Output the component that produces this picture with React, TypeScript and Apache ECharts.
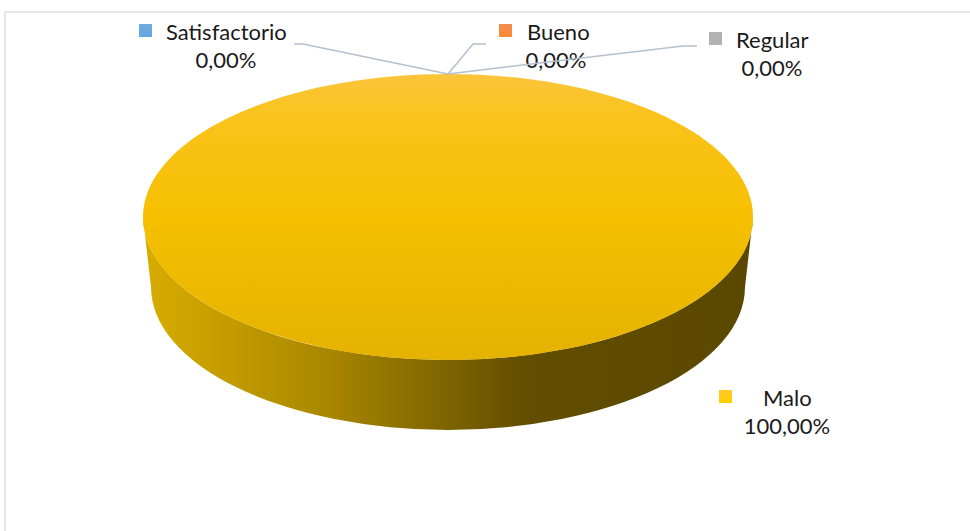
import React, { useEffect, useRef } from "react";
import * as echarts from "echarts";

// ---- data ----
const categories = ["Satisfactorio", "Bueno", "Regular", "Malo"];
const percentages = [0, 0, 0, 100];
const sliceColors = ["#5b9bd5", "#ed7d31", "#a5a5a5", "#ffc000"];

// ---- layout (positions, not data) ----
const pie = { cx: 448, cy: 217, rx: 305, ry: 143, depth: 70, rxBottom: 297 };
const labelLayout = [
  { mx: 139, my: 24, nx: 166, ny: 31.5, px: 226, py: 59, leader: [[294, 44], [303, 44]] },
  { mx: 499, my: 24, nx: 527, ny: 31.5, px: 556, py: 59, leader: [[486, 44], [473, 44]] },
  { mx: 709, my: 32, nx: 736, ny: 39, px: 772, py: 67, leader: [[697, 46], [683, 46]] },
  { mx: 719, my: 390, nx: 763, ny: 397, px: 787, py: 425, leader: null },
];
const FONT = "22px Lato";
const LEADER_COLOR = "#b4c0cf";

function fmtPct(v: number) {
  return v.toFixed(2).replace(".", ",") + "%";
}

function pt(theta: number, rx: number, ry: number, cx: number, cy: number) {
  return [cx + rx * Math.cos(theta), cy + ry * Math.sin(theta)];
}

export default function App() {
  const ref = useRef<HTMLDivElement>(null);
  useEffect(() => {
    if (!ref.current) return;
    const chart = echarts.init(ref.current, undefined, { renderer: "svg" });
    const total = percentages.reduce((a, b) => a + b, 0);

    const renderItem = (params: any, api: any) => {
      const i = params.dataIndex;
      const value = api.value(1);
      let before = 0;
      for (let k = 0; k < i; k++) before += percentages[k];
      const start = -Math.PI / 2 + (before / total) * Math.PI * 2;
      const end = start + (value / total) * Math.PI * 2;
      const mid = (start + end) / 2;
      const { cx, cy, rx, ry, depth, rxBottom } = pie;
      const children: any[] = [];

      if (value > 0) {
        // side (front, visible part)
        const full = value >= total;
        let s0 = full ? 0 : Math.max(start, 0);
        let s1 = full ? Math.PI : Math.min(end, Math.PI);
        if (s1 > s0) {
          const a = pt(s0, rx, ry, cx, cy);
          const b = pt(s1, rx, ry, cx, cy);
          const c = pt(s1, rxBottom, ry, cx, cy + depth);
          const d = pt(s0, rxBottom, ry, cx, cy + depth);
          const large = s1 - s0 > Math.PI ? 1 : 0;
          const pathData =
            `M${a[0]},${a[1]} A${rx},${ry} 0 ${large} 1 ${b[0]},${b[1]} ` +
            `L${c[0]},${c[1]} A${rxBottom},${ry} 0 ${large} 0 ${d[0]},${d[1]} Z`;
          children.push({
            type: "path",
            shape: { pathData },
            style: {
              fill: {
                type: "linear", x: 0, y: 0, x2: 1, y2: 0,
                colorStops: [
                  { offset: 0, color: "#d8ad00" },
                  { offset: 0.3, color: "#aa8700" },
                  { offset: 0.42, color: "#8e7200" },
                  { offset: 0.62, color: "#624e00" },
                  { offset: 1, color: "#5b4800" },
                ],
              },
            },
          });
        }
        // top
        const topFill = {
          type: "linear", x: 0, y: 0, x2: 0, y2: 1,
          colorStops: [
            { offset: 0, color: "#fbc53c" },
            { offset: 0.15, color: "#f9c31c" },
            { offset: 0.5, color: "#f6c000" },
            { offset: 1, color: "#e4b200" },
          ],
        };
        if (full) {
          children.push({ type: "ellipse", shape: { cx, cy, rx, ry }, style: { fill: topFill } });
        } else {
          const a = pt(start, rx, ry, cx, cy);
          const b = pt(end, rx, ry, cx, cy);
          const large = end - start > Math.PI ? 1 : 0;
          children.push({
            type: "path",
            shape: { pathData: `M${cx},${cy} L${a[0]},${a[1]} A${rx},${ry} 0 ${large} 1 ${b[0]},${b[1]} Z` },
            style: { fill: topFill },
          });
        }
      }

      // label
      const L = labelLayout[i];
      const anchor = pt(mid, rx, ry, cx, cy);
      if (L.leader) {
        children.push({
          type: "polyline",
          z2: 20,
          shape: { points: [L.leader[0], L.leader[1], anchor] },
          style: { stroke: LEADER_COLOR, lineWidth: 1.5, fill: "none" },
        });
      }
      const col = sliceColors[i];
      children.push({
        type: "rect",
        z2: 20,
        shape: { x: L.mx, y: L.my, width: 13, height: 13 },
        style: {
          fill: {
            type: "linear", x: 0, y: 0, x2: 0, y2: 1,
            colorStops: [
              { offset: 0, color: echarts.color.lift(col, 0.15) },
              { offset: 1, color: echarts.color.lift(col, -0.08) },
            ],
          },
        },
      });
      children.push({
        type: "text",
        z2: 20,
        style: {
          text: categories[i], x: L.nx, y: L.ny, font: FONT, fill: "#1a1a1a",
          align: "left", verticalAlign: "middle",
        },
      });
      children.push({
        type: "text",
        z2: 20,
        style: {
          text: fmtPct(value), x: L.px, y: L.py, font: FONT, fill: "#1a1a1a",
          align: "center", verticalAlign: "middle",
        },
      });
      return { type: "group", children };
    };

    chart.setOption({
      animation: false,
      backgroundColor: "#ffffff",
      graphic: [
        {
          type: "rect",
          z: -10,
          shape: { x: 5, y: 12, width: 1000, height: 600 },
          style: { fill: "none", stroke: "#dde2e8", lineWidth: 1.5 },
        },
      ],
      series: [
        {
          type: "custom",
          coordinateSystem: "none",
          data: percentages.map((v, i) => [i, v]),
          renderItem,
        },
      ],
    });
    return () => chart.dispose();
  }, []);
  return (
    <div
      ref={ref}
      style={{ position: "absolute", left: 0, top: 0, width: 970, height: 531 }}
    />
  );
}
